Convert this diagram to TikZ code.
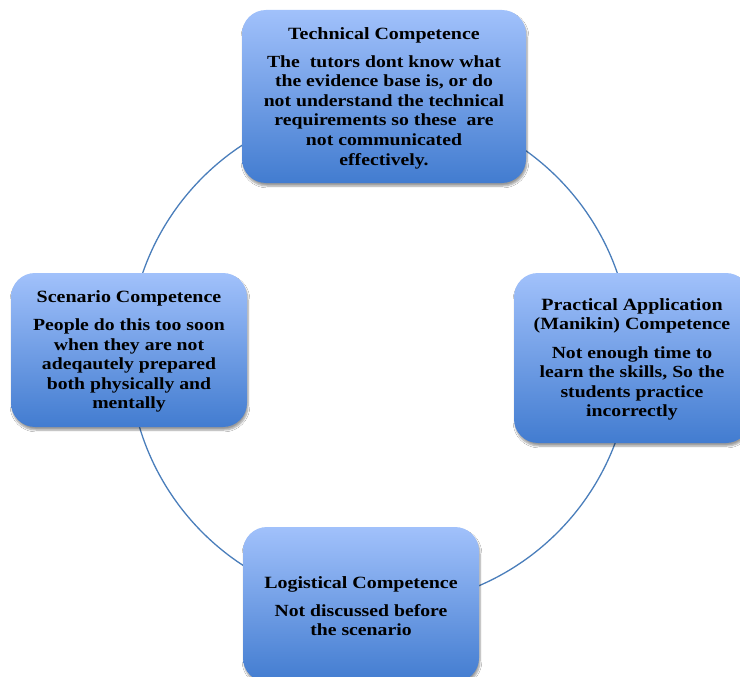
\documentclass[tikz,border=0pt]{standalone}
\usepackage{fontspec}
\setmainfont{Liberation Serif}[FakeStretch=1.16]
\usetikzlibrary{shadows.blur}
\definecolor{boxtop}{RGB}{161,193,251}
\definecolor{boxbot}{RGB}{66,124,208}
\definecolor{ringcol}{RGB}{74,126,187}
\tikzset{
  cbox/.style={rounded corners=24pt, top color=boxtop, bottom color=boxbot,
    draw=none, align=center, inner sep=0pt, text=black,
    font=\fontsize{17}{19.6}\selectfont\bfseries,
    blur shadow={shadow xshift=1pt, shadow yshift=-3pt, shadow blur steps=6, shadow opacity=40}},
  ring/.style={draw=ringcol, line width=1.3pt}
}
\newcommand{\boxtitle}[1]{{\fontsize{17.2}{19.6}\selectfont #1}}
\begin{document}
\begin{tikzpicture}[x=1pt,y=-1pt]
\useasboundingbox (0,0) rectangle (740,677);
\fill[white] (0,0) rectangle (740,677);
\coordinate (c) at (380,355);
\draw[ring] (c) circle (251pt);
\node[cbox, minimum width=284pt, minimum height=173pt] (tech) at (384,96.5) {};
\node[align=center, font=\fontsize{17}{19.6}\selectfont\bfseries, inner sep=0pt] (techtxt) at (384,98)
  {\boxtitle{Technical Competence}\\[8.5pt]
   The\ \ tutors dont know what\\ the evidence base is, or do\\ not understand the technical\\
   requirements so these\ \ are\\ not communicated\\ effectively.};
\node[cbox, minimum width=236pt, minimum height=154pt] (scen) at (129,350) {};
\node[align=center, font=\fontsize{17}{19.6}\selectfont\bfseries, inner sep=0pt] (scentxt) at (129,351.5)
  {\boxtitle{Scenario Competence}\\[8.5pt]
   People do this too soon\\ when they are not\\ adeqautely prepared\\ both physically and\\ mentally};
\node[cbox, minimum width=236pt, minimum height=170pt] (prac) at (632,358) {};
\node[align=center, font=\fontsize{17}{19.6}\selectfont\bfseries, inner sep=0pt] (practxt) at (632,359.5)
  {\boxtitle{Practical Application}\\ \boxtitle{(Manikin) Competence}\\[8.5pt]
   Not enough time to\\ learn the skills, So the\\ students practice\\ incorrectly};
\node[cbox, minimum width=236pt, minimum height=155pt] (logi) at (361,604.5) {};
\node[align=center, font=\fontsize{17}{19.6}\selectfont\bfseries, inner sep=0pt] (logitxt) at (361,606)
  {\boxtitle{Logistical Competence}\\[8.5pt]
   Not discussed before\\ the scenario};
\end{tikzpicture}
\end{document}
